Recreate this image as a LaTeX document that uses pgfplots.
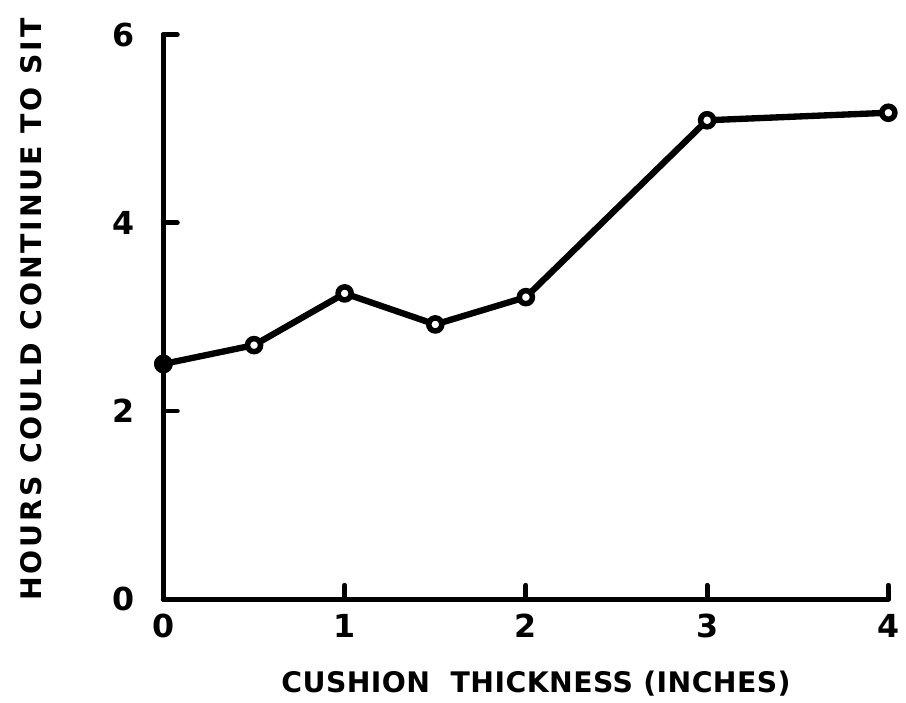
\documentclass[border=0pt]{standalone}
\usepackage{pgfplots}
\pgfplotsset{compat=1.18}
\usepackage{fontspec}
\setmainfont{DejaVu Sans}
\newfontfamily\lab[LetterSpace=1.5]{DejaVu Sans}
\newfontfamily\laby[LetterSpace=10]{DejaVu Sans}

\begin{document}
\begin{tikzpicture}
\begin{axis}[
    scale only axis,
    width=366pt, height=285pt,
    xmin=0, xmax=4,
    ymin=0, ymax=6,
    axis x line*=bottom,
    axis y line*=left,
    xtick pos=bottom,
    ytick pos=left,
    axis line style={-, line width=2.5pt, line cap=round},
    xtick={0,1,2,3,4},
    ytick={0,2,4,6},
    tick align=inside,
    major tick length=7pt,
    tick style={line width=2.5pt, line cap=round, black},
    /pgf/number format/assume math mode=true,
    ticklabel style={font=\fontsize{16}{16}\selectfont\bfseries},
    yticklabel style={xshift=-11pt},
    xticklabel style={yshift=-4pt},
    every axis y label/.style={at={(axis description cs:0,0.513)}, xshift=-67pt, rotate=90, anchor=center},
    every axis x label/.style={at={(axis description cs:0.514,0)}, yshift=-42.5pt, anchor=center},
    xlabel={\lab\fontsize{14.3}{14.3}\selectfont\bfseries CUSHION\ \ THICKNESS\ (INCHES)},
    ylabel={\laby\fontsize{14.3}{14.3}\selectfont\bfseries HOURS\ COULD\ CONTINUE\ TO\ SIT},
    clip=false,
]
\addplot[black, line width=3.2pt, line join=round,
    mark=*, mark size=3.3pt, mark options={fill=white, line width=2.8pt}]
    coordinates {
        (0,   2.50)
        (0.5, 2.70)
        (1,   3.25)
        (1.5, 2.92)
        (2,   3.21)
        (3,   5.09)
        (4,   5.17)
    };
\addplot[only marks, mark=*, mark size=4.5pt, black] coordinates {(0, 2.50)};
\path (rel axis cs:0,0) ++(-82.5pt,-52pt);
\path (rel axis cs:1,1) ++(4.5pt,17.5pt);
\end{axis}
\end{tikzpicture}
\end{document}
